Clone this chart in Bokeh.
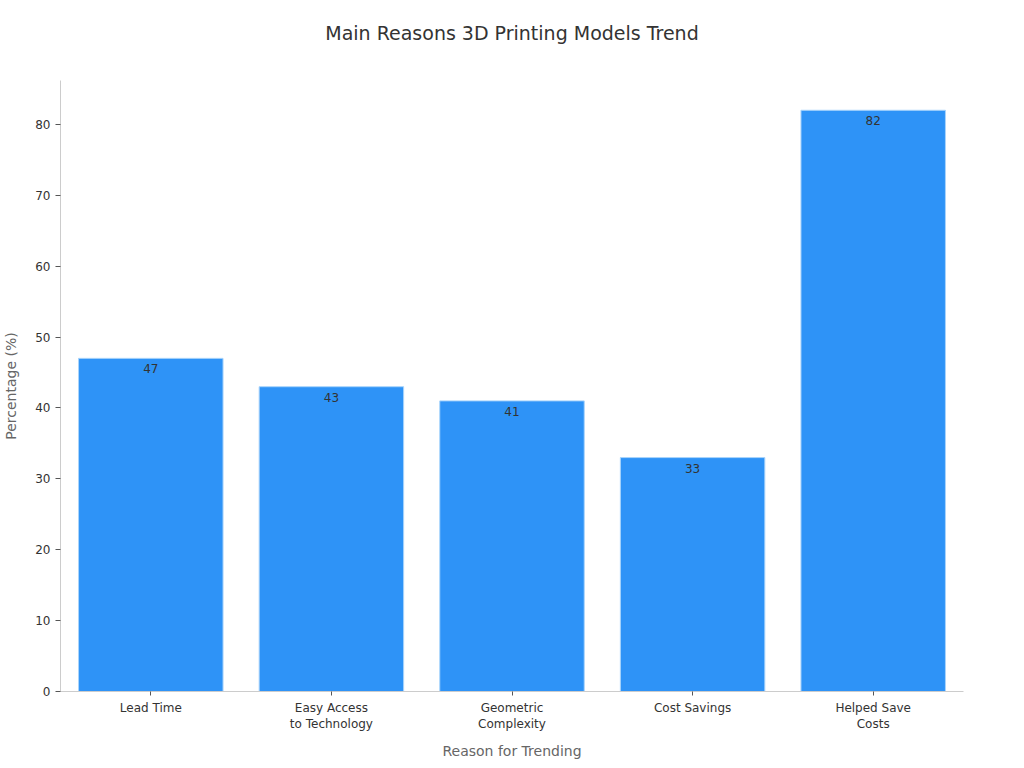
from bokeh.plotting import figure
from bokeh.models import ColumnDataSource, Range1d, FactorRange, LabelSet, Title
from bokeh.core.properties import value
from bokeh.embed import file_html
from bokeh.resources import INLINE

categories = ["Lead Time", "Easy Access\nto Technology", "Geometric\nComplexity", "Cost Savings", "Helped Save\nCosts"]
values = [47, 43, 41, 33, 82]
labels = [str(v) for v in values]
title_text = "Main Reasons 3D Printing Models Trend"

FONT = "DejaVu Sans"

src = ColumnDataSource(dict(cat=categories, val=values, lab=labels))

p = figure(frame_width=903, frame_height=611, output_backend="svg", toolbar_location=None,
           x_range=FactorRange(*categories, range_padding=0.0),
           y_range=Range1d(0, 86.2),
           title=None,
           min_border_left=54, min_border_right=45, min_border_top=80, min_border_bottom=60)

p.vbar(x="cat", top="val", width=0.8, source=src, fill_color="#2E93F7",
       line_color="#A9D4FB", line_width=1)

p.add_layout(LabelSet(x="cat", y="val", text="lab", source=src, text_align="center",
                      text_baseline="top", y_offset=-6, text_font_size="12px",
                      text_color="#333333", text_font=value(FONT)))

spacer = Title(text=" ", text_font_size="1px", standoff=29)
main_title = Title(text=title_text, align="center", text_font=FONT, text_font_size="19px",
                   text_font_style="normal", text_color="#333333", standoff=10)
p.add_layout(spacer, "above")
p.add_layout(main_title, "above")

p.outline_line_color = None
p.xgrid.grid_line_color = None
p.ygrid.grid_line_color = None

p.yaxis.axis_label = "Percentage (%)"
p.xaxis.axis_label = "Reason for Trending"
for ax in (p.xaxis[0], p.yaxis[0]):
    ax.axis_label_text_font = FONT
    ax.axis_label_text_font_size = "14px"
    ax.axis_label_text_font_style = "normal"
    ax.axis_label_text_color = "#666666"
    ax.major_label_text_font = FONT
    ax.major_label_text_font_size = "12px"
    ax.major_label_text_color = "#333333"
    ax.axis_line_color = "#CCCCCC"
    ax.minor_tick_line_color = None
    ax.major_tick_in = 0
    ax.major_tick_out = 5
    ax.major_tick_line_color = "#555555"

p.yaxis.ticker = [0, 10, 20, 30, 40, 50, 60, 70, 80]
p.yaxis.axis_label_standoff = 13
p.xaxis.axis_label_standoff = 9
p.xaxis.major_tick_out = 4
p.xaxis.major_label_standoff = 5

open("out.html", "w").write(file_html(p, INLINE))
